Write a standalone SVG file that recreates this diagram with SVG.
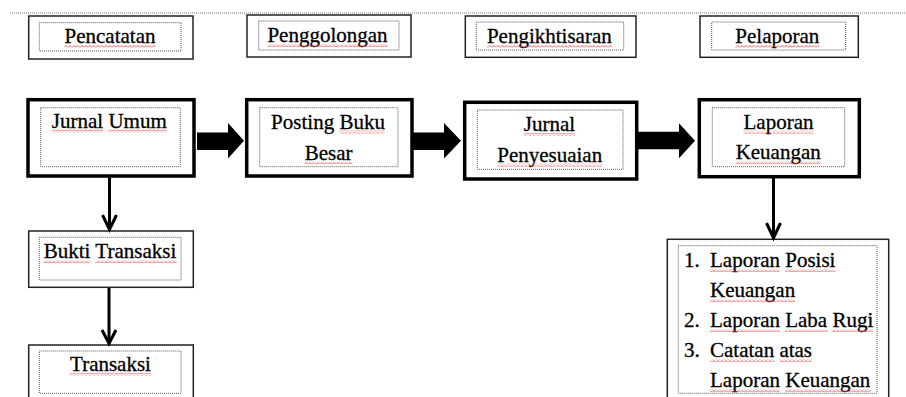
<svg xmlns="http://www.w3.org/2000/svg" width="906" height="397" viewBox="0 0 906 397">
<defs>
<pattern id="sq" width="4" height="3" patternUnits="userSpaceOnUse">
<path d="M0,2.5 L2,0.5 L4,2.5" fill="none" stroke="#e8443c" stroke-width="0.9"/>
</pattern>
</defs>
<style>
.hdr{fill:#fff;stroke:#222;stroke-width:1.5}
.main{fill:#fff;stroke:#000;stroke-width:3.5}
.plain{fill:#fff;stroke:#222;stroke-width:1.5}
.dot{fill:none;stroke:#555;stroke-width:1;stroke-dasharray:1 1}
.t{font-size:21px;fill:#000;stroke:#000;stroke-width:0.3}
.c{text-anchor:middle}
.sq{fill:url(#sq)}
.ln{stroke:#000;stroke-width:3;fill:none}
.blk{fill:#000}
</style>
<rect width="906" height="397" fill="#fff"/>
<line x1="10" y1="13" x2="906" y2="13" stroke="#777" stroke-width="1" stroke-dasharray="1 1"/>

<g id="pencatatan">
<rect class="hdr" x="28.7" y="16" width="164.3" height="43"/>
<rect class="dot" x="39.3" y="22.7" width="141.7" height="28.3"/>
<text class="t c" font-family="'Liberation Serif', 'Times New Roman', serif" x="110" y="43.3">Pencatatan</text>
<rect class="sq" x="64.5" y="45" width="91" height="3"/>
</g>
<g id="penggolongan">
<rect class="hdr" x="247" y="15" width="164" height="42"/>
<rect class="dot" x="258.7" y="21" width="140.3" height="29"/>
<text class="t c" font-family="'Liberation Serif', 'Times New Roman', serif" x="327.5" y="42">Penggolongan</text>
<rect class="sq" x="267.5" y="44" width="120" height="3"/>
</g>
<g id="pengikhtisaran">
<rect class="hdr" x="465.3" y="16" width="170.7" height="41.3"/>
<rect class="dot" x="476.3" y="22" width="147.4" height="28"/>
<text class="t c" font-family="'Liberation Serif', 'Times New Roman', serif" x="549.3" y="43">Pengikhtisaran</text>
<rect class="sq" x="487" y="45" width="124.7" height="3"/>
</g>
<g id="pelaporan">
<rect class="hdr" x="700" y="16" width="158.3" height="41.3"/>
<rect class="dot" x="711.7" y="22" width="134" height="28"/>
<text class="t c" font-family="'Liberation Serif', 'Times New Roman', serif" x="777.3" y="43">Pelaporan</text>
<rect class="sq" x="735.3" y="45" width="84" height="3"/>
</g>

<g id="jurnal-umum">
<rect class="main" x="28" y="99.7" width="166" height="76.3"/>
<rect class="dot" x="40.7" y="107.7" width="139.6" height="59"/>
<text class="t c" font-family="'Liberation Serif', 'Times New Roman', serif" x="109.3" y="127.7">Jurnal Umum</text>
<rect class="sq" x="51.9" y="129.5" width="51.3" height="3"/>
<rect class="sq" x="108.4" y="129.5" width="58.3" height="3"/>
</g>
<g id="posting-buku-besar">
<rect class="main" x="246.7" y="99.7" width="165.3" height="76.3"/>
<rect class="dot" x="259.7" y="107.7" width="138.3" height="59"/>
<text class="t c" font-family="'Liberation Serif', 'Times New Roman', serif" x="328" y="128.5">Posting Buku</text>
<text class="t c" font-family="'Liberation Serif', 'Times New Roman', serif" x="328.7" y="159.5">Besar</text>
<rect class="sq" x="339.4" y="130.5" width="45.5" height="3"/>
<rect class="sq" x="304.8" y="161.5" width="47.8" height="3"/>
</g>
<g id="jurnal-penyesuaian">
<rect class="main" x="464.7" y="102.3" width="172" height="76.7"/>
<rect class="dot" x="477.3" y="110" width="145.7" height="59.3"/>
<text class="t c" font-family="'Liberation Serif', 'Times New Roman', serif" x="549.5" y="131">Jurnal</text>
<text class="t c" font-family="'Liberation Serif', 'Times New Roman', serif" x="549.7" y="161.7">Penyesuaian</text>
<rect class="sq" x="523.8" y="133" width="51.4" height="3"/>
<rect class="sq" x="497.2" y="163.7" width="105" height="3"/>
</g>
<g id="laporan-keuangan">
<rect class="main" x="699.3" y="99.7" width="160" height="77"/>
<rect class="dot" x="712.3" y="107.7" width="132.4" height="59"/>
<text class="t c" font-family="'Liberation Serif', 'Times New Roman', serif" x="778.5" y="128.7">Laporan</text>
<text class="t c" font-family="'Liberation Serif', 'Times New Roman', serif" x="778.2" y="159.3">Keuangan</text>
<rect class="sq" x="743.5" y="130.7" width="70" height="3"/>
<rect class="sq" x="735.6" y="161.3" width="85.2" height="3"/>
</g>

<g id="bukti-transaksi">
<rect class="plain" x="28.7" y="231" width="164.6" height="56.3"/>
<rect class="dot" x="39.3" y="237.3" width="141.7" height="42.7"/>
<text class="t c" font-family="'Liberation Serif', 'Times New Roman', serif" x="110" y="258.3">Bukti Transaksi</text>
<rect class="sq" x="43.2" y="260.3" width="46.7" height="3"/>
<rect class="sq" x="95.1" y="260.3" width="81.6" height="3"/>
</g>
<g id="transaksi">
<rect class="plain" x="28.7" y="345" width="164.6" height="60"/>
<rect class="dot" x="39.3" y="351" width="141.7" height="42.3"/>
<text class="t c" font-family="'Liberation Serif', 'Times New Roman', serif" x="110.5" y="370.7">Transaksi</text>
<rect class="sq" x="69.7" y="372.7" width="81.6" height="3"/>
</g>
<g id="daftar-laporan">
<rect class="plain" x="667.3" y="239.3" width="221.4" height="170"/>
<rect class="dot" x="678.3" y="245.7" width="198.7" height="147.6"/>
<text class="t" font-family="'Liberation Serif', 'Times New Roman', serif" x="684" y="267">1.</text>
<text class="t" font-family="'Liberation Serif', 'Times New Roman', serif" x="710" y="267">Laporan Posisi</text>
<text class="t" font-family="'Liberation Serif', 'Times New Roman', serif" x="710" y="297">Keuangan</text>
<text class="t" font-family="'Liberation Serif', 'Times New Roman', serif" x="684" y="327">2.</text>
<text class="t" font-family="'Liberation Serif', 'Times New Roman', serif" x="710" y="327">Laporan Laba Rugi</text>
<text class="t" font-family="'Liberation Serif', 'Times New Roman', serif" x="684" y="357">3.</text>
<text class="t" font-family="'Liberation Serif', 'Times New Roman', serif" x="710" y="357">Catatan atas</text>
<text class="t" font-family="'Liberation Serif', 'Times New Roman', serif" x="710" y="387">Laporan Keuangan</text>
<rect class="sq" x="710" y="269" width="70" height="3"/>
<rect class="sq" x="785.3" y="269" width="50.2" height="3"/>
<rect class="sq" x="710" y="299" width="85.1" height="3"/>
<rect class="sq" x="710" y="329" width="70" height="3"/>
<rect class="sq" x="785.3" y="329" width="42" height="3"/>
<rect class="sq" x="832.5" y="329" width="40.9" height="3"/>
<rect class="sq" x="710" y="359" width="64.2" height="3"/>
<rect class="sq" x="779.4" y="359" width="32.7" height="3"/>
<rect class="sq" x="710" y="389" width="70" height="3"/>
<rect class="sq" x="785.3" y="389" width="85.1" height="3"/>
</g>

<g id="connectors">
<polygon class="blk" points="197,132.5 228,132.5 228,123 244,140.8 228,158.5 228,150 197,150"/>
<polygon class="blk" points="413,132.5 444,132.5 444,123 461,140.8 444,158.5 444,150 413,150"/>
<polygon class="blk" points="637,131.7 679,131.7 679,123.3 695,140.8 679,158.3 679,149.3 637,149.3"/>
<line class="ln" x1="109.5" y1="177.5" x2="109.5" y2="229"/>
<polyline class="ln" points="102.5,215 109.5,229.5 116.5,215"/>
<line class="ln" x1="109" y1="288" x2="109" y2="343"/>
<polyline class="ln" points="102,330 109,343.5 116,330"/>
<line class="ln" x1="773.5" y1="178" x2="773.5" y2="237.5"/>
<polyline class="ln" points="766.5,223 773.5,238 780.5,223"/>
</g>
</svg>
